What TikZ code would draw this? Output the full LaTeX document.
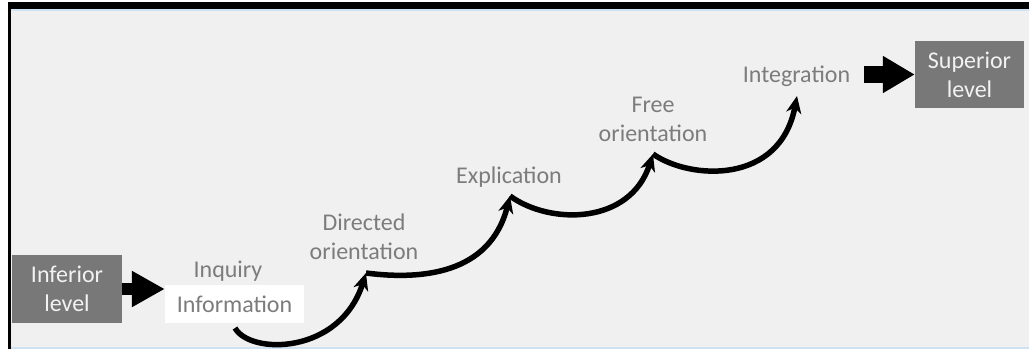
\documentclass[tikz,border=0pt]{standalone}
\usepackage{fontspec}
\setmainfont{Carlito}
\usetikzlibrary{arrows.meta}
\definecolor{bgc}{HTML}{F0F0F0}
\definecolor{boxc}{HTML}{787878}
\definecolor{boxtxt}{HTML}{F2F2F2}
\definecolor{lbl}{HTML}{7C7C7C}
\definecolor{edgeblue}{HTML}{CFE2F3}
\tikzset{
  lvlbox/.style={fill=boxc, text=boxtxt, align=center, inner sep=0pt, font=\fontsize{24}{29}\selectfont},
  steplabel/.style={text=lbl, align=center, inner sep=0pt, font=\fontsize{24}{29}\selectfont},
  stepcurve/.style={line width=5.5pt, draw=black, -{Stealth[length=17pt,width=15pt,inset=5pt]}},
  blockarrow/.style={draw=black}
}
\begin{document}
\begin{tikzpicture}[x=1pt,y=-1pt]
\useasboundingbox (0,0) rectangle (1029,349);
% background and frame
\fill[white] (0,0) rectangle (1029,349);
\fill[bgc] (11,9) rectangle (1029,347);
\fill[edgeblue] (11,9) rectangle (1029,10.5);
\fill[edgeblue] (11,346.5) rectangle (1029,349);
\fill[black] (8,2) rectangle (1029,9);
\fill[black] (8,2) rectangle (11,349);
% level boxes
\node[lvlbox, minimum width=110pt, minimum height=68pt] (inf) at (67,289) {Inferior\\level};
\node[lvlbox, minimum width=109pt, minimum height=67pt] (sup) at (969.5,74.5) {Superior\\level};
% step labels
\node[steplabel] (inq) at (228,271) {Inquiry};
\node[fill=white, text=lbl, inner sep=0pt, minimum width=139pt, minimum height=38pt, font=\fontsize{24}{29}\selectfont] (info) at (234.5,304) {Information};
\node[steplabel] (dir) at (364,237) {Directed\\orientation};
\node[steplabel] (expl) at (509,177) {Explication};
\node[steplabel] (free) at (653,119) {Free\\orientation};
\node[steplabel] (integ) at (796.5,76) {Integration};
% cusp coordinates
\coordinate (p0) at (235,328);
\coordinate (p1) at (366,273);
\coordinate (p2) at (510,196);
\coordinate (p3) at (653,154);
\coordinate (p4) at (797,96);
% block arrows
\draw[blockarrow, line width=12pt, -{Triangle[length=33pt,width=34pt]}] (inf.east) -- (inf.east -| info.west);
\draw[blockarrow, line width=17pt, -{Triangle[length=32pt,width=35pt]}, shorten <=14pt] (integ.east |- sup.west) -- (sup.west);
% step curves
\draw[stepcurve] (p0) .. controls (250,355) and (340,355) .. (p1);
\draw[stepcurve] (p1) .. controls (420,280) and (490,275) .. (p2);
\draw[stepcurve] (p2) .. controls (550,225) and (630,225) .. (p3);
\draw[stepcurve] (p3) .. controls (690,180) and (780,185) .. (p4);
\end{tikzpicture}
\end{document}
